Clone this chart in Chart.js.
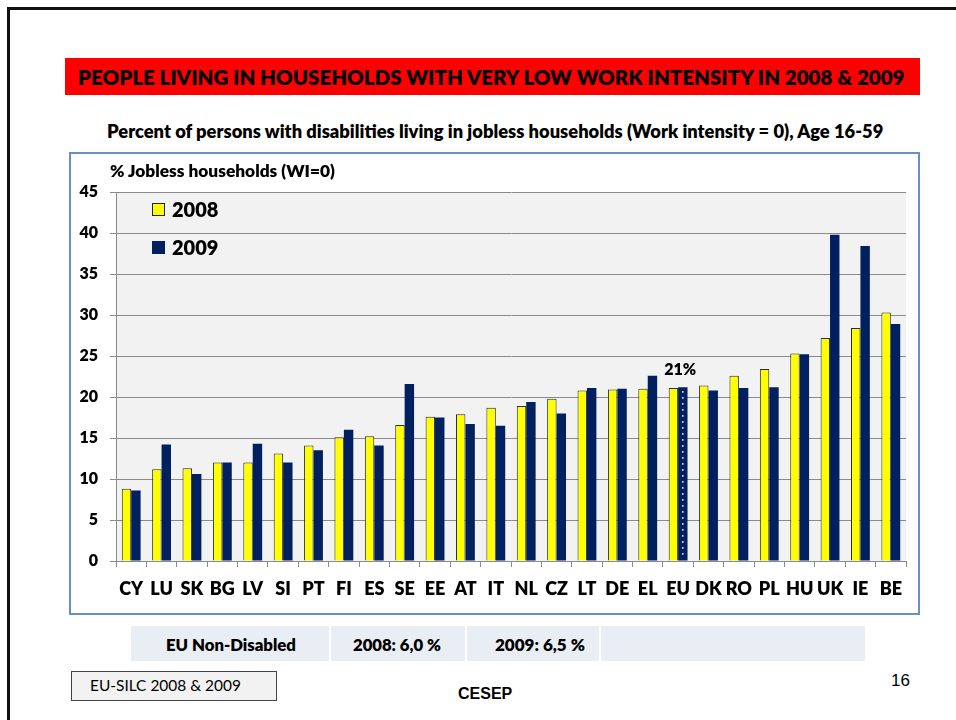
<!DOCTYPE html>
<html><head><meta charset="utf-8">
<script src="https://cdn.jsdelivr.net/npm/chart.js@4.4.1/dist/chart.umd.min.js"></script>
<style>
html,body{margin:0;padding:0;background:#fff;width:956px;height:720px;overflow:hidden;font-family:Lato,"Open Sans",sans-serif;}
.frame{position:absolute;left:7px;top:7px;width:1000px;height:800px;border-top:3px solid #111;border-left:3px solid #111;}
.band{position:absolute;left:65px;top:58px;width:855px;height:37px;background:#ff0000;}
.t{position:absolute;white-space:nowrap;font-weight:800;color:#000;line-height:1;}
.box{position:absolute;left:69px;top:152px;width:847px;height:459px;border:2px solid #6790c6;background:#fff;}
.wrap{position:absolute;left:71px;top:154px;width:847px;height:459px;}
.cell{position:absolute;top:626px;height:35px;background:#e9edf4;}
.src{position:absolute;left:71px;top:671px;width:204px;height:28px;background:#f2f2f2;border:1px solid #444;}
</style></head>
<body>
<div class="frame"></div>
<div class="band"></div>
<span class="t" id="title">PEOPLE LIVING IN HOUSEHOLDS WITH VERY LOW WORK INTENSITY IN 2008 &amp; 2009</span>
<span class="t" id="sub">Percent of persons with disabilities living in jobless households (Work intensity = 0), Age 16-59</span>
<div class="box"></div>
<div class="wrap"><canvas id="c"></canvas></div>
<span class="t" id="ytitle">% Jobless households (WI=0)</span>
<div class="cell" style="left:131px;width:198px"></div>
<div class="cell" style="left:331px;width:134px"></div>
<div class="cell" style="left:467px;width:132px"></div>
<div class="cell" style="left:601px;width:264px"></div>
<span class="t" id="n1">EU Non-Disabled</span>
<span class="t" id="n2">2008: 6,0 %</span>
<span class="t" id="n3">2009: 6,5 %</span>
<div class="src"></div>
<span class="t" id="srct" style="font-weight:400">EU-SILC 2008 &amp; 2009</span>
<span class="t" id="cesep" style="font-family:'Liberation Sans',Arial,sans-serif;font-weight:700">CESEP</span>
<span class="t" id="pg" style="font-family:'Liberation Sans',Arial,sans-serif;font-weight:400">16</span>
<script>
const categories = ["CY","LU","SK","BG","LV","SI","PT","FI","ES","SE","EE","AT","IT","NL","CZ","LT","DE","EL","EU","DK","RO","PL","HU","UK","IE","BE"];
const values2008 = [8.8,11.2,11.3,12.0,12.0,13.1,14.1,15.1,15.2,16.6,17.6,17.9,18.7,18.9,19.8,20.8,20.9,21.0,21.1,21.4,22.6,23.4,25.3,27.2,28.4,30.3];
const values2009 = [8.6,14.2,10.6,12.0,14.3,12.0,13.5,16.0,14.1,21.6,17.5,16.7,16.5,19.4,18.0,21.1,21.0,22.6,21.2,20.8,21.1,21.2,25.2,39.8,38.4,28.9];
const seriesLabels = ["2008","2009"];
const yTicks = [0,5,10,15,20,25,30,35,40,45];
const euIndex = 18;
const euLabel = "21%";

function place(id, left, right, cy, base) {
  const el = document.getElementById(id);
  el.style.fontSize = base + 'px';
  let w = el.getBoundingClientRect().width;
  const fs = base * (right - left) / w;
  el.style.fontSize = fs + 'px';
  const r = el.getBoundingClientRect();
  el.style.left = left + 'px';
  el.style.top = (cy - r.height / 2) + 'px';
}
function placeFixed(id, left, cy, fs) {
  const el = document.getElementById(id);
  el.style.fontSize = fs + 'px';
  const r = el.getBoundingClientRect();
  el.style.left = left + 'px';
  el.style.top = (cy - r.height / 2) + 'px';
}
place('title', 78, 905, 77, 17);
place('sub', 107, 884, 131, 16);
place('ytitle', 110, 335, 171, 14);
place('n1', 166, 296, 645, 14);
place('n2', 353, 441, 645, 14);
place('n3', 495, 585, 645, 14);
place('srct', 90, 241, 686, 13);
placeFixed('cesep', 458, 694, 16);
placeFixed('pg', 891, 680, 17);

const FW = '800';
const bgPlugin = {
  id: 'bg',
  beforeDraw(chart) {
    const a = chart.chartArea, ctx = chart.ctx;
    ctx.save(); ctx.fillStyle = '#f2f2f2';
    ctx.fillRect(a.left, a.top, a.right - a.left, a.bottom - a.top);
    ctx.restore();
  }
};
const extraPlugin = {
  id: 'extra',
  afterDatasetsDraw(chart) {
    const ctx = chart.ctx, a = chart.chartArea;
    const el = chart.getDatasetMeta(1).data[euIndex];
    ctx.save();
    ctx.fillStyle = '#ffffff';
    for (let y = el.y + 4; y < el.base - 2; y += 6) {
      ctx.fillRect(el.x - 0.75, y, 1.5, 1.5);
    }
    const x = chart.scales.x.getPixelForValue(euIndex);
    const top = Math.min(chart.getDatasetMeta(0).data[euIndex].y, el.y);
    ctx.fillStyle = '#000';
    ctx.font = FW + ' 16px Lato, sans-serif';
    ctx.textAlign = 'center'; ctx.textBaseline = 'middle';
    ctx.fillText(euLabel, x + 2, top - 17);
    const ds = chart.data.datasets;
    ctx.textAlign = 'left';
    ctx.font = FW + ' 20px Lato, sans-serif';
    ds.forEach((d, i) => {
      const sx = a.left + 36, sy = a.top + 11 + i * 38;
      ctx.fillStyle = d.backgroundColor;
      ctx.fillRect(sx, sy, 13, 13);
      if (d.borderWidth) { ctx.strokeStyle = '#222'; ctx.lineWidth = 1; ctx.strokeRect(sx + 0.5, sy + 0.5, 12, 12); }
      ctx.fillStyle = '#000';
      ctx.fillText(d.label, sx + 20, sy + 7.5);
    });
    ctx.restore();
  }
};

new Chart(document.getElementById('c'), {
  type: 'bar',
  data: {
    labels: categories,
    datasets: [
      { label: seriesLabels[0], data: values2008, backgroundColor: '#ffff00', borderColor: '#2a2a2a', borderWidth: 1 },
      { label: seriesLabels[1], data: values2009, backgroundColor: '#002060', borderWidth: 0 }
    ]
  },
  options: {
    responsive: true, maintainAspectRatio: false, animation: false,
    devicePixelRatio: 1,
    layout: { padding: { top: 38, right: 12, left: 0, bottom: 0 } },
    datasets: { bar: { barPercentage: 1, categoryPercentage: 0.62 } },
    plugins: { legend: { display: false }, tooltip: { enabled: false } },
    scales: {
      x: {
        afterFit(s) { s.height = 52; },
        grid: { offset: true, drawOnChartArea: false, tickLength: 6, color: '#8a8a8a' },
        border: { color: '#8a8a8a' },
        ticks: { color: '#000', padding: 11, font: { family: 'Lato', weight: FW, size: 18 }, maxRotation: 0, autoSkip: false }
      },
      y: {
        min: 0, max: 45,
        afterFit(s) { s.width = 45; },
        afterBuildTicks(s) { s.ticks = yTicks.map(v => ({ value: v })); },
        grid: { color: '#8a8a8a', tickLength: 6 },
        border: { color: '#8a8a8a' },
        ticks: { color: '#000', padding: 12, font: { family: 'Lato', weight: FW, size: 16 } }
      }
    }
  },
  plugins: [bgPlugin, extraPlugin]
});
</script>
</body></html>
